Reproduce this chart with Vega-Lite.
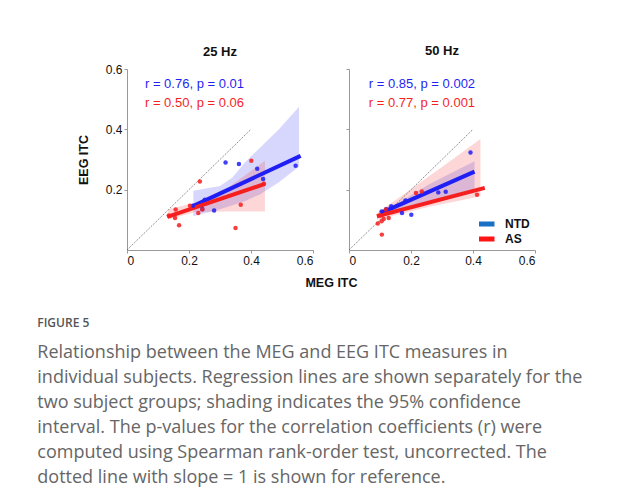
{
  "$schema": "https://vega.github.io/schema/vega-lite/v6.json",
  "background": "white",
  "padding": {"left": 37, "top": 44, "right": 5, "bottom": 5},
  "datasets": {
    "pts": [
      {"panel": "25 Hz", "group": "NTD", "x": 0.318, "y": 0.290},
      {"panel": "25 Hz", "group": "NTD", "x": 0.361, "y": 0.285},
      {"panel": "25 Hz", "group": "NTD", "x": 0.420, "y": 0.269},
      {"panel": "25 Hz", "group": "NTD", "x": 0.439, "y": 0.235},
      {"panel": "25 Hz", "group": "NTD", "x": 0.544, "y": 0.279},
      {"panel": "25 Hz", "group": "NTD", "x": 0.281, "y": 0.131},
      {"panel": "25 Hz", "group": "NTD", "x": 0.243, "y": 0.136},
      {"panel": "25 Hz", "group": "NTD", "x": 0.251, "y": 0.167},
      {"panel": "25 Hz", "group": "NTD", "x": 0.213, "y": 0.147},
      {"panel": "25 Hz", "group": "AS", "x": 0.401, "y": 0.296},
      {"panel": "25 Hz", "group": "AS", "x": 0.235, "y": 0.227},
      {"panel": "25 Hz", "group": "AS", "x": 0.367, "y": 0.150},
      {"panel": "25 Hz", "group": "AS", "x": 0.350, "y": 0.073},
      {"panel": "25 Hz", "group": "AS", "x": 0.168, "y": 0.082},
      {"panel": "25 Hz", "group": "AS", "x": 0.157, "y": 0.134},
      {"panel": "25 Hz", "group": "AS", "x": 0.155, "y": 0.106},
      {"panel": "25 Hz", "group": "AS", "x": 0.135, "y": 0.114},
      {"panel": "25 Hz", "group": "AS", "x": 0.230, "y": 0.123},
      {"panel": "25 Hz", "group": "AS", "x": 0.203, "y": 0.147},
      {"panel": "25 Hz", "group": "AS", "x": 0.442, "y": 0.220},
      {"panel": "25 Hz", "group": "AS", "x": 0.243, "y": 0.134},
      {"panel": "50 Hz", "group": "NTD", "x": 0.392, "y": 0.323},
      {"panel": "50 Hz", "group": "NTD", "x": 0.288, "y": 0.191},
      {"panel": "50 Hz", "group": "NTD", "x": 0.312, "y": 0.193},
      {"panel": "50 Hz", "group": "NTD", "x": 0.171, "y": 0.123},
      {"panel": "50 Hz", "group": "NTD", "x": 0.201, "y": 0.117},
      {"panel": "50 Hz", "group": "NTD", "x": 0.182, "y": 0.164},
      {"panel": "50 Hz", "group": "NTD", "x": 0.136, "y": 0.145},
      {"panel": "50 Hz", "group": "NTD", "x": 0.120, "y": 0.135},
      {"panel": "50 Hz", "group": "NTD", "x": 0.105, "y": 0.128},
      {"panel": "50 Hz", "group": "AS", "x": 0.413, "y": 0.183},
      {"panel": "50 Hz", "group": "AS", "x": 0.216, "y": 0.189},
      {"panel": "50 Hz", "group": "AS", "x": 0.235, "y": 0.194},
      {"panel": "50 Hz", "group": "AS", "x": 0.106, "y": 0.051},
      {"panel": "50 Hz", "group": "AS", "x": 0.093, "y": 0.088},
      {"panel": "50 Hz", "group": "AS", "x": 0.128, "y": 0.106},
      {"panel": "50 Hz", "group": "AS", "x": 0.112, "y": 0.103},
      {"panel": "50 Hz", "group": "AS", "x": 0.119, "y": 0.134},
      {"panel": "50 Hz", "group": "AS", "x": 0.101, "y": 0.114},
      {"panel": "50 Hz", "group": "AS", "x": 0.105, "y": 0.095}
    ],
    "fits": [
      {"panel": "25 Hz", "group": "NTD", "x": 0.208, "y": 0.143},
      {"panel": "25 Hz", "group": "NTD", "x": 0.560, "y": 0.312},
      {"panel": "25 Hz", "group": "AS", "x": 0.130, "y": 0.110},
      {"panel": "25 Hz", "group": "AS", "x": 0.445, "y": 0.219},
      {"panel": "50 Hz", "group": "NTD", "x": 0.104, "y": 0.123},
      {"panel": "50 Hz", "group": "NTD", "x": 0.405, "y": 0.260},
      {"panel": "50 Hz", "group": "AS", "x": 0.090, "y": 0.112},
      {"panel": "50 Hz", "group": "AS", "x": 0.438, "y": 0.206}
    ],
    "bands": [
      {"panel": "25 Hz", "group": "NTD", "x": 0.214, "y": 0.112, "y2": 0.196},
      {"panel": "25 Hz", "group": "NTD", "x": 0.300, "y": 0.135, "y2": 0.212},
      {"panel": "25 Hz", "group": "NTD", "x": 0.340, "y": 0.148, "y2": 0.240},
      {"panel": "25 Hz", "group": "NTD", "x": 0.380, "y": 0.162, "y2": 0.290},
      {"panel": "25 Hz", "group": "NTD", "x": 0.430, "y": 0.185, "y2": 0.340},
      {"panel": "25 Hz", "group": "NTD", "x": 0.490, "y": 0.225, "y2": 0.400},
      {"panel": "25 Hz", "group": "NTD", "x": 0.555, "y": 0.277, "y2": 0.475},
      {"panel": "25 Hz", "group": "AS", "x": 0.133, "y": 0.100, "y2": 0.135},
      {"panel": "25 Hz", "group": "AS", "x": 0.220, "y": 0.126, "y2": 0.157},
      {"panel": "25 Hz", "group": "AS", "x": 0.330, "y": 0.128, "y2": 0.210},
      {"panel": "25 Hz", "group": "AS", "x": 0.445, "y": 0.128, "y2": 0.296},
      {"panel": "50 Hz", "group": "NTD", "x": 0.104, "y": 0.117, "y2": 0.129},
      {"panel": "50 Hz", "group": "NTD", "x": 0.180, "y": 0.142, "y2": 0.170},
      {"panel": "50 Hz", "group": "NTD", "x": 0.257, "y": 0.161, "y2": 0.217},
      {"panel": "50 Hz", "group": "NTD", "x": 0.330, "y": 0.175, "y2": 0.255},
      {"panel": "50 Hz", "group": "NTD", "x": 0.405, "y": 0.189, "y2": 0.294},
      {"panel": "50 Hz", "group": "AS", "x": 0.090, "y": 0.100, "y2": 0.122},
      {"panel": "50 Hz", "group": "AS", "x": 0.170, "y": 0.120, "y2": 0.180},
      {"panel": "50 Hz", "group": "AS", "x": 0.257, "y": 0.143, "y2": 0.244},
      {"panel": "50 Hz", "group": "AS", "x": 0.340, "y": 0.160, "y2": 0.305},
      {"panel": "50 Hz", "group": "AS", "x": 0.424, "y": 0.178, "y2": 0.368}
    ],
    "diag": [
      {"x": 0, "y": 0},
      {"x": 0.4, "y": 0.4}
    ],
    "ann": [
      {"panel": "25 Hz", "group": "NTD", "x": 0.058, "y": 0.550, "label": "r = 0.76, p = 0.01"},
      {"panel": "25 Hz", "group": "AS", "x": 0.058, "y": 0.488, "label": "r = 0.50, p = 0.06"},
      {"panel": "50 Hz", "group": "NTD", "x": 0.064, "y": 0.550, "label": "r = 0.85, p = 0.002"},
      {"panel": "50 Hz", "group": "AS", "x": 0.064, "y": 0.488, "label": "r = 0.77, p = 0.001"}
    ]
  },
  "title": {
    "text": "FIGURE 5",
    "subtitle": [
      "Relationship between the MEG and EEG ITC measures in",
      "individual subjects. Regression lines are shown separately for the",
      "two subject groups; shading indicates the 95% confidence",
      "interval. The p-values for the correlation coefficients (r) were",
      "computed using Spearman rank-order test, uncorrected. The",
      "dotted line with slope = 1 is shown for reference."
    ],
    "orient": "bottom",
    "anchor": "start",
    "frame": "bounds",
    "font": "Open Sans",
    "fontSize": 12,
    "fontWeight": 600,
    "color": "#555555",
    "subtitleFont": "Open Sans",
    "subtitleFontSize": 18,
    "subtitleColor": "#666666",
    "subtitleLineHeight": 25,
    "subtitlePadding": 14,
    "offset": 29,
    "dx": -40
  },
  "spacing": 36,
  "bounds": "flush",
  "hconcat": [
    {
      "width": 186,
      "height": 181,
      "title": {"text": "25 Hz", "offset": 4.5},
      "encoding": {
        "x": {"field": "x", "type": "quantitative", "scale": {"domain": [0, 0.6], "nice": false},
              "axis": {"values": [0, 0.2, 0.4, 0.6], "format": "~g", "title": "MEG ITC", "titleX": 204, "titlePadding": 10.5}},
        "y": {"field": "y", "type": "quantitative", "scale": {"domain": [0, 0.6], "nice": false},
              "axis": {"values": [0.2, 0.4, 0.6], "format": "~g", "title": "EEG ITC", "titlePadding": 15}}
      },
      "layer": [
        {
          "data": {"name": "bands"},
          "transform": [{"filter": "datum.panel == '25 Hz'"}],
          "mark": {"type": "area", "opacity": 0.18},
          "encoding": {
            "y2": {"field": "y2"},
            "color": {"field": "group", "type": "nominal", "scale": {"domain": ["NTD", "AS"], "range": ["#1f1ff5", "#f51f1f"]}, "legend": null}
          }
        },
        {
          "data": {"name": "diag"},
          "mark": {"type": "line", "color": "#555555", "strokeWidth": 0.8, "strokeDash": [1.2, 1.2]},
          "encoding": {}
        },
        {
          "data": {"name": "fits"},
          "transform": [{"filter": "datum.panel == '25 Hz'"}],
          "mark": {"type": "line", "strokeWidth": 4},
          "encoding": {
            "color": {"field": "group", "type": "nominal", "scale": {"domain": ["NTD", "AS"], "range": ["#1f1ff5", "#f51f1f"]}, "legend": null}
          }
        },
        {
          "data": {"name": "pts"},
          "transform": [{"filter": "datum.panel == '25 Hz'"}],
          "mark": {"type": "circle", "size": 20, "opacity": 0.85},
          "encoding": {
            "color": {"field": "group", "type": "nominal", "scale": {"domain": ["NTD", "AS"], "range": ["#1f1ff5", "#f51f1f"]}, "legend": null}
          }
        },
        {
          "data": {"name": "ann"},
          "transform": [{"filter": "datum.panel == '25 Hz'"}],
          "mark": {"type": "text", "align": "left", "baseline": "middle", "fontSize": 13, "font": "Liberation Sans"},
          "encoding": {
            "text": {"field": "label"},
            "color": {"field": "group", "type": "nominal", "scale": {"domain": ["NTD", "AS"], "range": ["#1f1ff5", "#f51f1f"]}, "legend": null}
          }
        }
      ]
    },
    {
      "width": 186,
      "height": 181,
      "title": {"text": "50 Hz", "offset": 11},
      "encoding": {
        "x": {"field": "x", "type": "quantitative", "scale": {"domain": [0, 0.6], "nice": false},
              "axis": {"values": [0, 0.2, 0.4, 0.6], "format": "~g", "title": null}},
        "y": {"field": "y", "type": "quantitative", "scale": {"domain": [0, 0.6], "nice": false},
              "axis": {"values": [0.2, 0.4, 0.6], "labels": false, "title": null}}
      },
      "layer": [
        {
          "data": {"name": "bands"},
          "transform": [{"filter": "datum.panel == '50 Hz'"}],
          "mark": {"type": "area", "opacity": 0.18},
          "encoding": {
            "y2": {"field": "y2"},
            "color": {"field": "group", "type": "nominal", "scale": {"domain": ["NTD", "AS"], "range": ["#1f1ff5", "#f51f1f"]}, "legend": null}
          }
        },
        {
          "data": {"name": "diag"},
          "mark": {"type": "line", "color": "#555555", "strokeWidth": 0.8, "strokeDash": [1.2, 1.2]},
          "encoding": {}
        },
        {
          "data": {"name": "fits"},
          "transform": [{"filter": "datum.panel == '50 Hz'"}],
          "mark": {"type": "line", "strokeWidth": 4},
          "encoding": {
            "color": {"field": "group", "type": "nominal", "scale": {"domain": ["NTD", "AS"], "range": ["#1f1ff5", "#f51f1f"]}, "legend": null}
          }
        },
        {
          "data": {"name": "pts"},
          "transform": [{"filter": "datum.panel == '50 Hz'"}],
          "mark": {"type": "circle", "size": 20, "opacity": 0.85},
          "encoding": {
            "color": {"field": "group", "type": "nominal", "scale": {"domain": ["NTD", "AS"], "range": ["#1f1ff5", "#f51f1f"]}, "legend": null}
          }
        },
        {
          "data": {"name": "ann"},
          "transform": [{"filter": "datum.panel == '50 Hz'"}],
          "mark": {"type": "text", "align": "left", "baseline": "middle", "fontSize": 13, "font": "Liberation Sans"},
          "encoding": {
            "text": {"field": "label"},
            "color": {"field": "group", "type": "nominal", "scale": {"domain": ["NTD", "AS"], "range": ["#1f1ff5", "#f51f1f"]}, "legend": null}
          }
        },
        {
          "data": {"name": "pts"},
          "transform": [{"filter": "datum.panel == '50 Hz'"}],
          "mark": {"type": "point", "opacity": 0},
          "encoding": {
            "stroke": {"field": "group", "type": "nominal",
                       "scale": {"domain": ["NTD", "AS"], "range": ["#1a6fc6", "#ff1414"]},
                       "legend": {"title": null, "orient": "bottom-right", "offset": 5, "padding": 0,
                                  "symbolType": "M-2,0H2", "symbolSize": 72, "symbolStrokeWidth": 5,
                                  "clipHeight": 12,
                                  "labelFontSize": 12, "labelFontWeight": "bold", "labelFont": "Liberation Sans",
                                  "labelColor": "#111111", "labelOffset": 12, "rowPadding": 3}}
          }
        }
      ]
    }
  ],
  "resolve": {"legend": {"stroke": "independent"}},
  "config": {
    "font": "Liberation Sans",
    "view": {"stroke": null},
    "axis": {
      "domainColor": "#999999",
      "tickColor": "#999999",
      "tickSize": 3,
      "labelFontSize": 12,
      "labelColor": "#111111",
      "labelFont": "Liberation Sans",
      "grid": false,
      "titleFont": "Liberation Sans",
      "titleFontSize": 12.5,
      "titleFontWeight": "bold",
      "titleColor": "#111111"
    },
    "title": {"fontSize": 13, "fontWeight": "bold", "font": "Liberation Sans", "color": "#111111"}
  }
}
